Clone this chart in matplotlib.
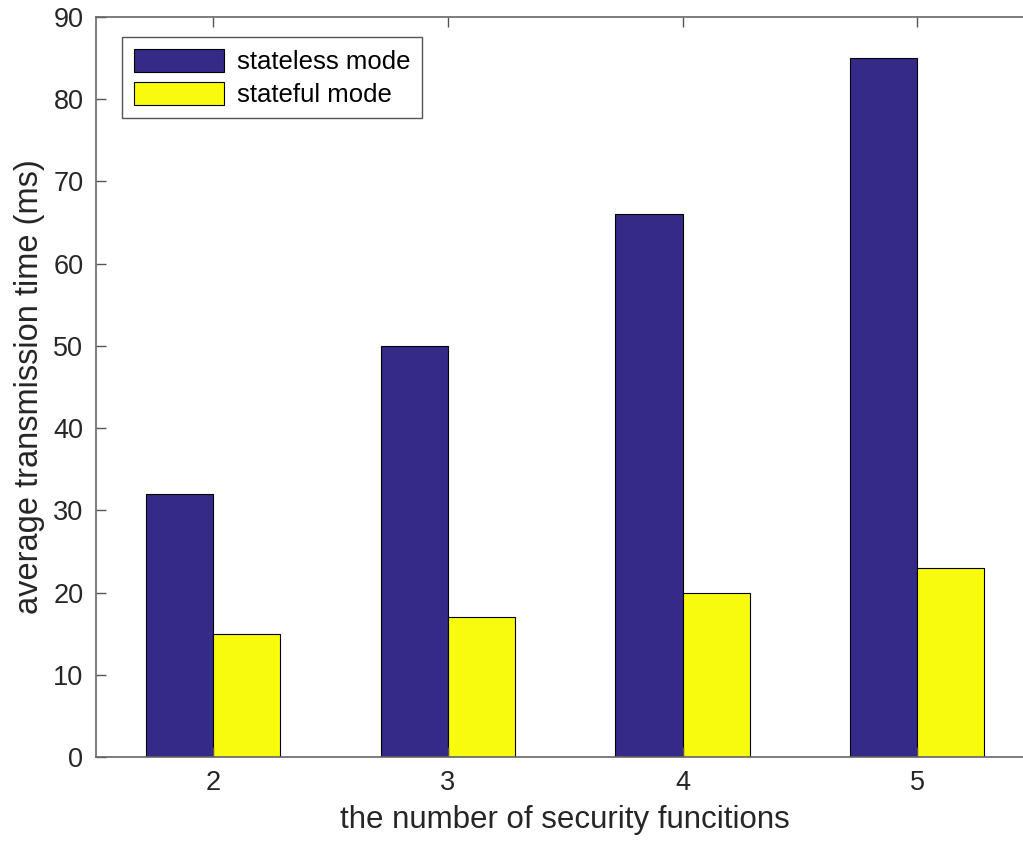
import matplotlib
matplotlib.use('Agg')
import matplotlib.pyplot as plt
import numpy as np

# data
categories = [2, 3, 4, 5]
stateless = [32, 50, 66, 85]
stateful = [15, 17, 20, 23]
series_names = ['stateless mode', 'stateful mode']

plt.rcParams['font.family'] = ['Liberation Sans', 'DejaVu Sans']

fig = plt.figure(figsize=(10.23, 8.46), dpi=100)
ax = fig.add_axes([0.0938, 0.1052, 0.9175, 0.8747])

x = np.array(categories, dtype=float)
w = 0.286
ax.bar(x - w / 2, stateless, width=w, color='#352a87', edgecolor='black', linewidth=0.8, label=series_names[0])
ax.bar(x + w / 2, stateful, width=w, color='#f9fb0e', edgecolor='black', linewidth=0.8, label=series_names[1])

ax.set_xlim(1.5, 5.5)
ax.set_ylim(0, 90)
ax.set_xticks(categories)
ax.set_yticks(range(0, 91, 10))
ax.tick_params(direction='in', length=7, width=1, colors='#555555', labelcolor='#262626',
               labelsize=19.5, top=True, right=True, pad=9)
for s in ax.spines.values():
    s.set_color('#666666')
    s.set_linewidth(1.2)

ax.set_xlabel('the number of security funcitions', fontsize=22.5, color='#262626', labelpad=7)
ax.set_ylabel('average transmission time (ms)', fontsize=23.5, color='#262626', labelpad=6)

leg = ax.legend(loc='upper left', bbox_to_anchor=(0.028, 0.973), fontsize=18.5, fancybox=False,
                edgecolor='#555555', framealpha=1, handlelength=3.5, handleheight=1.0,
                borderpad=0.45, labelspacing=0.3, handletextpad=0.5, borderaxespad=0)
leg.get_frame().set_linewidth(1.0)

fig.savefig('out.png', dpi=100)
